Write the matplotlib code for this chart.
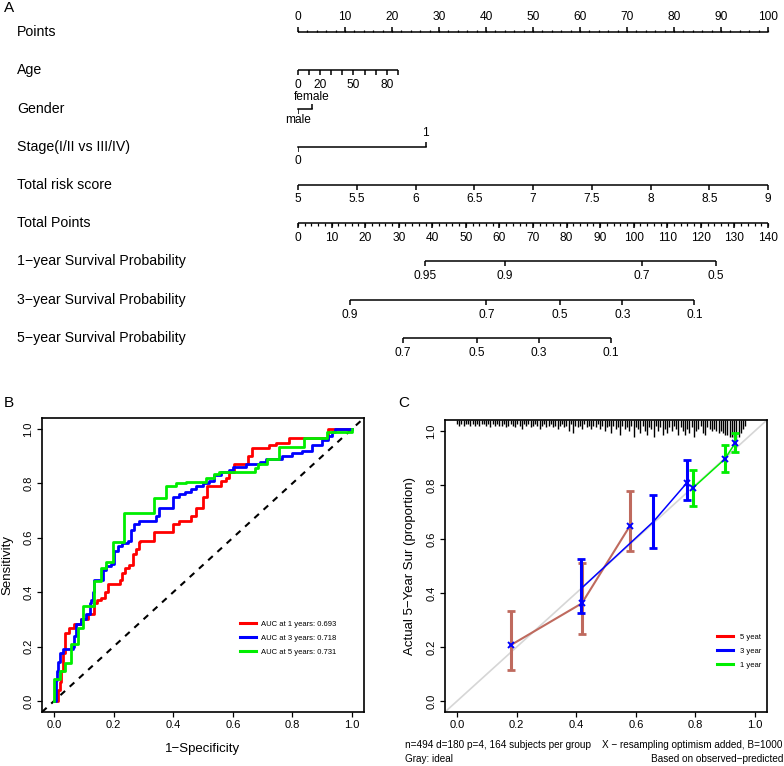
import numpy as np
import matplotlib
matplotlib.use("Agg")
import matplotlib.pyplot as plt
from matplotlib.transforms import blended_transform_factory

plt.rcParams["font.family"] = ["Liberation Sans", "DejaVu Sans"]

# ── Panel A: nomogram scales ─────────────────────────────────
ROW_LABELS = ["Points", "Age", "Gender", "Stage(I/II vs III/IV)",
              "Total risk score", "Total Points",
              "1\u2212year Survival Probability",
              "3\u2212year Survival Probability",
              "5\u2212year Survival Probability"]

POINTS_MAJOR = list(range(0, 101, 10))
POINTS_MINOR = list(range(0, 101, 2))

AGE_TICKS = [0, 10, 20, 30, 40, 50, 60, 70, 80, 90]
AGE_LABELS = [0, 20, 50, 80]
AGE_PTS_PER_YEAR = 0.236

GENDER_LEVELS = ["male", "female"]
GENDER_POINTS = [0.0, 3.0]

STAGE_LEVELS = ["0", "1"]
STAGE_POINTS = [0.0, 27.2]

RISK_TICKS = [5, 5.5, 6, 6.5, 7, 7.5, 8, 8.5, 9]
RISK_MIN, RISK_MAX = 5, 9

TOTAL_MAJOR = list(range(0, 141, 10))
TOTAL_MINOR = list(range(0, 141, 2))
TOTAL_MAX = 140

SURV1_PROB = ["0.95", "0.9", "0.7", "0.5"]
SURV1_TOTAL = [37.8, 61.6, 102.4, 124.5]
SURV3_PROB = ["0.9", "0.7", "0.5", "0.3", "0.1"]
SURV3_TOTAL = [15.5, 56.1, 78.1, 96.6, 118.1]
SURV5_PROB = ["0.7", "0.5", "0.3", "0.1"]
SURV5_TOTAL = [31.3, 53.3, 71.8, 93.2]

# ── Panel B: time-dependent ROC ──────────────────────────────
ROC1_FPR = [0, 0.013, 0.02, 0.025, 0.03, 0.036, 0.052, 0.069, 0.09, 0.114, 0.136,
            0.145, 0.158, 0.17, 0.18, 0.22, 0.23, 0.24, 0.253, 0.264, 0.275, 0.287,
            0.29, 0.337, 0.40, 0.42, 0.46, 0.476, 0.50, 0.515, 0.56, 0.576, 0.587,
            0.604, 0.65, 0.666, 0.72, 0.744, 0.79, 0.92, 1.0]
ROC1_TPR = [0, 0.04, 0.07, 0.11, 0.175, 0.25, 0.267, 0.285, 0.30, 0.32, 0.36,
            0.37, 0.38, 0.40, 0.43, 0.445, 0.47, 0.49, 0.50, 0.54, 0.56, 0.585,
            0.59, 0.62, 0.65, 0.66, 0.68, 0.71, 0.75, 0.79, 0.81, 0.82, 0.84,
            0.87, 0.90, 0.93, 0.94, 0.95, 0.966, 1.0, 1.0]

ROC3_FPR = [0, 0.008, 0.01, 0.014, 0.02, 0.03, 0.063, 0.069, 0.075, 0.09, 0.108,
            0.12, 0.125, 0.13, 0.136, 0.164, 0.175, 0.192, 0.203, 0.214, 0.23,
            0.247, 0.26, 0.27, 0.287, 0.342, 0.353, 0.40, 0.42, 0.44, 0.46, 0.476,
            0.50, 0.52, 0.537, 0.56, 0.587, 0.60, 0.643, 0.69, 0.71, 0.766, 0.80,
            0.833, 0.866, 0.90, 0.92, 0.933, 0.944, 1.0]
ROC3_TPR = [0, 0.077, 0.11, 0.145, 0.175, 0.19, 0.20, 0.24, 0.285, 0.30, 0.32,
            0.36, 0.37, 0.40, 0.445, 0.48, 0.495, 0.505, 0.55, 0.57, 0.58,
            0.59, 0.63, 0.65, 0.66, 0.68, 0.71, 0.75, 0.76, 0.77, 0.78, 0.79,
            0.80, 0.81, 0.83, 0.84, 0.85, 0.86, 0.87, 0.88, 0.89, 0.90, 0.91,
            0.92, 0.94, 0.96, 0.975, 0.99, 1.0, 1.0]

ROC5_FPR = [0, 0, 0.02, 0.036, 0.058, 0.08, 0.097, 0.136, 0.158, 0.175, 0.197,
            0.236, 0.337, 0.376, 0.41, 0.443, 0.51, 0.538, 0.555, 0.676, 0.686,
            0.715, 0.755, 0.838, 0.916, 1.0]
ROC5_TPR = [0, 0.08, 0.11, 0.14, 0.21, 0.27, 0.35, 0.44, 0.49, 0.51, 0.585,
            0.69, 0.745, 0.79, 0.80, 0.806, 0.82, 0.835, 0.843, 0.855, 0.87,
            0.89, 0.935, 0.966, 0.99, 1.0]

ROC_LABELS = ["AUC at 1 years: 0.693", "AUC at 3 years: 0.718", "AUC at 5 years: 0.731"]
ROC_COLORS = ["#ff0000", "#0000ff", "#00ee00"]

# ── Panel C: calibration ─────────────────────────────────────
CAL5_PRED = [0.18, 0.419, 0.58]
CAL5_OBS = [0.207, 0.362, 0.648]
CAL5_LO = [0.117, 0.25, 0.556]
CAL5_HI = [0.335, 0.512, 0.778]

CAL3_PRED = [0.417, 0.659, 0.77]
CAL3_OBS = [0.417, 0.664, 0.806]
CAL3_LO = [0.328, 0.568, 0.744]
CAL3_HI = [0.525, 0.762, 0.893]

CAL1_PRED = [0.791, 0.898, 0.933]
CAL1_OBS = [0.788, 0.895, 0.954]
CAL1_LO = [0.723, 0.849, 0.923]
CAL1_HI = [0.856, 0.948, 0.991]

CORR_PRED = [0.18, 0.419, 0.58, 0.77, 0.791, 0.898, 0.933]
CORR_OBS = [0.207, 0.362, 0.648, 0.806, 0.788, 0.895, 0.954]

# rug of predicted values along top (counts per 0.0075-wide bin from 0.0)
RUG_BIN = 0.0075
RUG_COUNTS = [2, 3, 2, 3, 2, 2, 3, 2, 3, 2, 3, 2, 2, 3, 2, 4, 2, 3, 2, 3,
              3, 2, 4, 3, 2, 3, 4, 2, 3, 5, 2, 3, 2, 4, 3, 2, 3, 5, 3, 2,
              4, 3, 2, 4, 3, 5, 3, 2, 4, 3, 6, 2, 7, 3, 4, 3, 5, 2, 4, 3,
              5, 3, 4, 2, 5, 3, 6, 4, 3, 7, 3, 5, 4, 8, 3, 5, 4, 6, 3, 9,
              4, 5, 7, 3, 6, 8, 4, 5, 9, 3, 6, 4, 8, 5, 7, 4, 6, 3, 5, 8,
              4, 6, 8, 5, 7, 4, 9, 6, 5, 3, 7, 8, 4, 5, 6, 5, 6, 7, 6, 7,
              8, 8, 9, 9, 10, 10, 9, 7, 5, 3]
RUG_UNIT = 0.0068

CAL_LEGEND = ["5 yeat", "3 year", "1 year"]
BROWN = "#bf6a5e"

W, H = 784, 766
fig = plt.figure(figsize=(W / 100, H / 100), dpi=100)

# ---------------- Panel A ----------------
axA = fig.add_axes([298 / W, 1 - 357 / H, 470 / W, 344 / H])
axA.set_xlim(0, 100)
axA.set_ylim(8.5, -0.5)
axA.axis("off")

LW = 1.1
TICK = 0.13
OFF = 0.39
TFS = 8.6


def draw_scale(row, pos, up=False, labels=None, label_pos=None, minor=None, off=OFF):
    sgn = -1 if up else 1
    axA.plot([min(pos), max(pos)], [row, row], color="black", lw=LW,
             solid_capstyle="butt", clip_on=False)
    axA.vlines(pos, row, row + sgn * TICK, color="black", lw=LW, clip_on=False)
    if minor is not None:
        axA.vlines(minor, row, row + sgn * TICK * 0.5, color="black", lw=LW * 0.8,
                   clip_on=False)
    if labels is not None:
        for p, lab in zip(label_pos, labels):
            axA.text(p, row + sgn * off, lab, ha="center", va="center",
                     fontsize=TFS, clip_on=False)


# Points
draw_scale(0, POINTS_MAJOR, up=True, labels=[str(v) for v in POINTS_MAJOR],
           label_pos=POINTS_MAJOR, minor=POINTS_MINOR)
# Age
age_pos = [a * AGE_PTS_PER_YEAR for a in AGE_TICKS]
draw_scale(1, age_pos, labels=[str(a) for a in AGE_LABELS],
           label_pos=[a * AGE_PTS_PER_YEAR for a in AGE_LABELS])
# Gender
axA.plot(GENDER_POINTS, [2, 2], color="black", lw=LW, clip_on=False)
axA.vlines(GENDER_POINTS[0], 2, 2 + TICK, color="black", lw=LW)
axA.vlines(GENDER_POINTS[1], 2, 2 - TICK, color="black", lw=LW)
axA.text(GENDER_POINTS[0], 2 + 0.31, GENDER_LEVELS[0], ha="center", va="center", fontsize=TFS)
axA.text(GENDER_POINTS[1], 2 - 0.31, GENDER_LEVELS[1], ha="center", va="center", fontsize=TFS)
# Stage
axA.plot(STAGE_POINTS, [3, 3], color="black", lw=LW, clip_on=False)
axA.vlines(STAGE_POINTS[0], 3, 3 + TICK, color="black", lw=LW)
axA.vlines(STAGE_POINTS[1], 3, 3 - TICK, color="black", lw=LW)
axA.text(STAGE_POINTS[0], 3 + 0.37, STAGE_LEVELS[0], ha="center", va="center", fontsize=TFS)
axA.text(STAGE_POINTS[1], 3 - 0.37, STAGE_LEVELS[1], ha="center", va="center", fontsize=TFS)
# Total risk score
risk_pos = [(r - RISK_MIN) / (RISK_MAX - RISK_MIN) * 100 for r in RISK_TICKS]
draw_scale(4, risk_pos, labels=[f"{r:g}" for r in RISK_TICKS], label_pos=risk_pos, off=0.37)
# Total Points
tp = lambda v: v * 100 / TOTAL_MAX
draw_scale(5, [tp(v) for v in TOTAL_MAJOR], labels=[str(v) for v in TOTAL_MAJOR],
           label_pos=[tp(v) for v in TOTAL_MAJOR], minor=[tp(v) for v in TOTAL_MINOR])
# Survival probabilities
for row, probs, tot in [(6, SURV1_PROB, SURV1_TOTAL), (7, SURV3_PROB, SURV3_TOTAL),
                        (8, SURV5_PROB, SURV5_TOTAL)]:
    pos = [tp(v) for v in tot]
    draw_scale(row, pos, labels=probs, label_pos=pos)

lab_tr = blended_transform_factory(fig.transFigure, axA.transData)
for i, lab in enumerate(ROW_LABELS):
    axA.text(17 / W, i, lab, transform=lab_tr, ha="left", va="center", fontsize=10.2)

fig.text(4 / W, 1 - 8 / H, "A", fontsize=11, va="center", ha="left")
fig.text(4 / W, 1 - 403 / H, "B", fontsize=11, va="center", ha="left")
fig.text(398 / W, 1 - 403 / H, "C", fontsize=11, va="center", ha="left")


def style_axes(ax):
    ax.set_xlim(-0.04, 1.04)
    ax.set_ylim(-0.04, 1.04)
    ticks = [0, 0.2, 0.4, 0.6, 0.8, 1.0]
    ax.set_xticks(ticks, [f"{t:.1f}" for t in ticks])
    ax.set_yticks(ticks, [f"{t:.1f}" for t in ticks], rotation=90, va="center")
    ax.tick_params(direction="out", length=3.6, width=0.9, labelsize=8, pad=2.5)
    for s in ax.spines.values():
        s.set_linewidth(1.2)


# ---------------- Panel B ----------------
axB = fig.add_axes([42 / W, 1 - 712 / H, 322 / W, 294 / H])
style_axes(axB)
axB.plot([-0.04, 1.04], [-0.04, 1.04], color="black", lw=1.5, ls=(0, (3, 3)))
for fpr, tpr, lab, col in [(ROC1_FPR, ROC1_TPR, ROC_LABELS[0], ROC_COLORS[0]),
                           (ROC3_FPR, ROC3_TPR, ROC_LABELS[1], ROC_COLORS[1]),
                           (ROC5_FPR, ROC5_TPR, ROC_LABELS[2], ROC_COLORS[2])]:
    axB.step(fpr, tpr, where="post", color=col, lw=2.0, label=lab)
axB.legend(loc="center left", bbox_to_anchor=(0.615, 0.252), frameon=False,
           fontsize=5.5, handlelength=2.1, handletextpad=0.66, labelspacing=0.88,
           borderpad=0, borderaxespad=0)
for line in axB.get_legend().get_lines():
    line.set_linewidth(2.2)
axB.set_xlabel("1\u2212Specificity", fontsize=9.5)
axB.xaxis.set_label_coords(0.5, -0.105)
axB.set_ylabel("Sensitivity", fontsize=9.5, va="center")
axB.yaxis.set_label_coords(-0.108, 0.5)

# ---------------- Panel C ----------------
axC = fig.add_axes([445 / W, 1 - 712 / H, 322 / W, 292 / H])
style_axes(axC)
axC.plot([-0.04, 1.04], [-0.04, 1.04], color="#d6d6d6", lw=1.2, zorder=1)

rug_x = np.arange(len(RUG_COUNTS)) * RUG_BIN
rug_len = np.array(RUG_COUNTS) * RUG_UNIT
axC.vlines(rug_x, 1.04 - rug_len, 1.04, color="black", lw=1.0, zorder=2)

axC.plot(CAL5_PRED, CAL5_OBS, color=BROWN, lw=1.5, zorder=3)
axC.errorbar(CAL5_PRED, CAL5_OBS,
             yerr=[np.subtract(CAL5_OBS, CAL5_LO), np.subtract(CAL5_HI, CAL5_OBS)],
             fmt="none", ecolor=BROWN, elinewidth=2.2, capsize=3.2, capthick=2, zorder=3)
axC.plot(CAL3_PRED, CAL3_OBS, color="#0000ff", lw=1.1, zorder=4)
axC.errorbar(CAL3_PRED, CAL3_OBS,
             yerr=[np.subtract(CAL3_OBS, CAL3_LO), np.subtract(CAL3_HI, CAL3_OBS)],
             fmt="none", ecolor="#0000ff", elinewidth=2.2, capsize=3.2, capthick=2, zorder=4)
axC.plot(CAL1_PRED, CAL1_OBS, color="#00ee00", lw=1.1, zorder=5)
axC.errorbar(CAL1_PRED, CAL1_OBS,
             yerr=[np.subtract(CAL1_OBS, CAL1_LO), np.subtract(CAL1_HI, CAL1_OBS)],
             fmt="none", ecolor="#00ee00", elinewidth=2.2, capsize=3.2, capthick=2, zorder=5)
axC.plot(CORR_PRED, CORR_OBS, ls="none", marker="x", color="#0000ff",
         ms=4, mew=1.4, zorder=6)

for lab, col in zip(CAL_LEGEND, ["#ff0000", "#0000ff", "#00ee00"]):
    axC.plot([], [], color=col, lw=2.2, label=lab)
axC.legend(loc="center left", bbox_to_anchor=(0.845, 0.209), frameon=False,
           fontsize=5.5, handlelength=2.1, handletextpad=0.9, labelspacing=0.88,
           borderpad=0, borderaxespad=0)
axC.set_ylabel("Actual 5\u2212Year Sur (proportion)", fontsize=9.5, va="center")
axC.yaxis.set_label_coords(-0.109, 0.5)

fig.text(405 / W, 1 - 745 / H, "n=494 d=180 p=4, 164 subjects per group",
         fontsize=7.2, ha="left", va="center")
fig.text(783 / W, 1 - 745 / H, "X \u2212 resampling optimism added, B=1000",
         fontsize=7.2, ha="right", va="center")
fig.text(405 / W, 1 - 759 / H, "Gray: ideal", fontsize=7.2, ha="left", va="center")
fig.text(783 / W, 1 - 759 / H, "Based on observed\u2212predicted",
         fontsize=7.2, ha="right", va="center")

fig.savefig("out.png", dpi=100)
